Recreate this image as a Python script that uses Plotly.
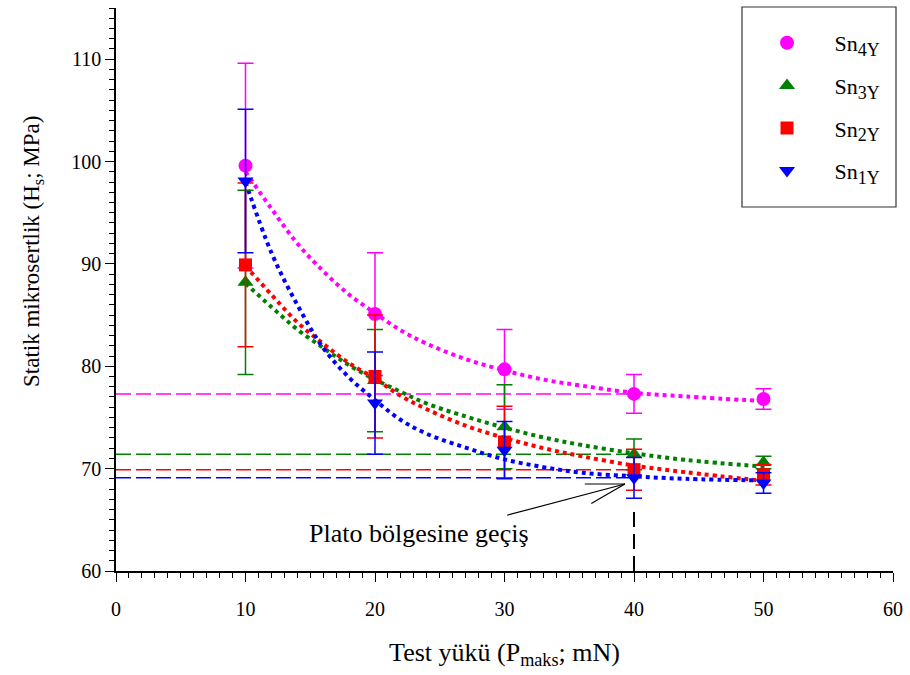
import plotly.graph_objects as go

# Measured microhardness at each test load
loads = [10, 20, 30, 40, 50]
sn4y = [99.6, 85.1, 79.7, 77.3, 76.8]
sn4y_err = [10.0, 6.0, 3.9, 1.9, 1.0]
sn3y = [88.2, 78.6, 74.1, 71.4, 70.6]
sn3y_err = [9.0, 5.0, 4.1, 1.5, 0.6]
sn2y = [89.9, 79.0, 72.6, 69.9, 69.4]
sn2y_err = [8.0, 6.0, 3.5, 2.0, 1.0]
sn1y = [98.1, 76.4, 71.8, 69.1, 68.6]
sn1y_err = [7.0, 5.0, 2.8, 2.0, 1.0]

# Decay trend lines
fit_x = [10, 12, 14, 16, 18, 20, 22, 24, 27, 30, 33, 36, 40, 44, 50]
fit4 = [99.0, 95.4, 92.0, 89.3, 87.0, 85.2, 83.5, 82.2, 80.7, 79.6, 78.7, 78.1, 77.4, 77.05, 76.6]
fit3 = [88.1, 85.8, 83.6, 81.8, 80.1, 78.7, 77.5, 76.35, 75.1, 74.0, 73.05, 72.3, 71.5, 70.85, 70.2]
fit2 = [89.8, 87.0, 84.3, 82.2, 80.3, 78.8, 77.1, 75.8, 74.2, 73.0, 72.0, 71.2, 70.3, 69.65, 68.8]
fit1 = [98.0, 91.1, 86.0, 81.8, 78.9, 76.7, 74.75, 73.4, 72.05, 70.9, 70.15, 69.6, 69.25, 69.0, 68.85]

plateau_load = 40
x_ticks = [0, 10, 20, 30, 40, 50, 60]
y_ticks = [60, 70, 80, 90, 100, 110]

FONT = "Liberation Serif, Times New Roman, serif"
NB = "\u00a0"

series = [
    ("Sn", "4Y", sn4y, sn4y_err, fit4, "#FF00FF", "circle", 14),
    ("Sn", "3Y", sn3y, sn3y_err, fit3, "#008000", "triangle-up", 14),
    ("Sn", "2Y", sn2y, sn2y_err, fit2, "#FF0000", "square", 13),
    ("Sn", "1Y", sn1y, sn1y_err, fit1, "#0000FF", "triangle-down", 14),
]

fig = go.Figure()

# horizontal reference levels at the plateau load
idx = loads.index(plateau_load)
for base, sub, vals, err, fit, color, sym, size in series:
    fig.add_trace(go.Scatter(
        x=[0, plateau_load], y=[vals[idx], vals[idx]], mode="lines",
        line=dict(color=color, width=1.5, dash="15px,5px"),
        showlegend=False, hoverinfo="skip"))

# vertical marker of the plateau start
fig.add_trace(go.Scatter(
    x=[plateau_load, plateau_load], y=[60, sn1y[idx] - sn1y_err[idx] - 0.7], mode="lines",
    line=dict(color="black", width=2, dash="15px,7px"),
    showlegend=False, hoverinfo="skip"))

# dotted trend curves
for base, sub, vals, err, fit, color, sym, size in series:
    fig.add_trace(go.Scatter(
        x=fit_x, y=fit, mode="lines", line_shape="spline",
        line=dict(color=color, width=4, dash="4px,4px"),
        showlegend=False, hoverinfo="skip"))

# measured points with error bars
for i, (base, sub, vals, err, fit, color, sym, size) in enumerate(series):
    label = NB * 5 + base + "<sub><span style='font-size:18px'>" + sub + "</span></sub>"
    fig.add_trace(go.Scatter(
        x=loads, y=vals, mode="markers", name=label,
        legendgroup=f"g{i}",
        marker=dict(symbol=sym, size=size, color=color, line=dict(width=0)),
        error_y=dict(type="data", array=err, visible=True, color=color,
                     thickness=1.5, width=8)))

# arrow pointing at the plateau entry
tip = (39.3, 68.5)
arrow_lines = [((30.2, 65.45), tip), ((36.2, 68.5), tip), ((36.7, 66.6), tip)]
for (x0, y0), (x1, y1) in arrow_lines:
    fig.add_shape(type="line", xref="x", yref="y", x0=x0, y0=y0, x1=x1, y1=y1,
                  line=dict(color="black", width=1.2))

fig.add_annotation(x=23.4, y=63.7, xref="x", yref="y", text="Plato bölgesine geçiş",
                   showarrow=False, font=dict(family=FONT, size=26, color="black"))

# y-axis title, placed as a rotated annotation
fig.add_annotation(x=(33 - 116) / 777, y=1 - (252 - 8) / 563, xref="paper", yref="paper",
                   xanchor="center", yanchor="middle", textangle=-90, showarrow=False,
                   text="Statik mikrosertlik (H<sub>s</sub>; MPa)",
                   font=dict(family=FONT, size=23, color="black"))

# legend frame
fig.add_shape(type="rect", xref="paper", yref="paper",
              x0=(742 - 116) / 777, x1=(896 - 116) / 777,
              y0=1 - (207 - 8) / 563, y1=1 + 1 / 563,
              line=dict(color="#333333", width=1.2), fillcolor="rgba(0,0,0,0)")

axis_common = dict(
    showline=True, linecolor="black", linewidth=1.5, mirror=False,
    ticks="outside", ticklen=9, tickwidth=1.2, tickcolor="black",
    showgrid=False, zeroline=False,
)

fig.update_xaxes(
    range=[0, 60], tickvals=x_ticks, ticklabelstandoff=10,
    tickfont=dict(family=FONT, size=20, color="black"),
    minor=dict(dtick=1, ticklen=5, ticks="outside", tickcolor="black", tickwidth=1),
    title=dict(text="Test yükü (P<sub>maks</sub>; mN)", standoff=24,
               font=dict(family=FONT, size=26, color="black")),
    **axis_common)
fig.update_yaxes(
    range=[60, 115], tickvals=y_ticks,
    tickfont=dict(family=FONT, size=20, color="black"),
    minor=dict(dtick=1, ticklen=5, ticks="outside", tickcolor="black", tickwidth=1),
    **axis_common)

fig.update_layout(
    width=910, height=675,
    margin=dict(l=116, r=17, t=8, b=104),
    paper_bgcolor="white", plot_bgcolor="white",
    font=dict(family=FONT, color="black"),
    legend=dict(x=(767 - 116) / 777, y=1 - 14 / 563, xanchor="left", yanchor="top",
                traceorder="grouped", tracegroupgap=11,
                font=dict(family=FONT, size=22, color="black"),
                bgcolor="rgba(0,0,0,0)", borderwidth=0),
)

fig.write_html("out.html")
